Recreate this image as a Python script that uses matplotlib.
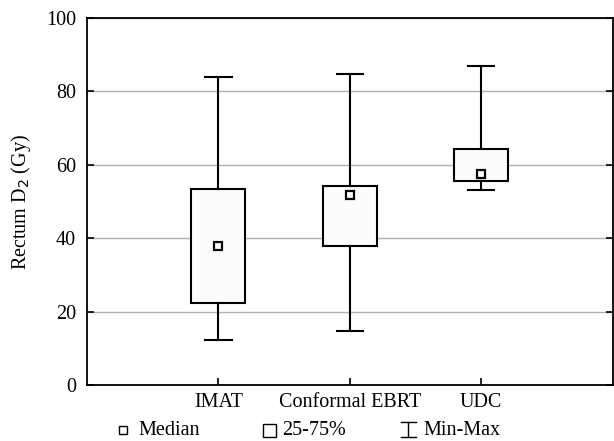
import matplotlib
matplotlib.use("Agg")
import matplotlib.pyplot as plt
from matplotlib.lines import Line2D
from matplotlib.patches import Rectangle

# Datos
categorias = ["IMAT", "Conformal EBRT", "UDC"]
minimos = [12.3, 14.7, 53.1]
q1 = [22.3, 38.0, 55.7]
medianas = [37.8, 51.8, 57.5]
q3 = [53.5, 54.3, 64.2]
maximos = [84.0, 84.7, 87.0]
yticks = [0, 20, 40, 60, 80, 100]

plt.rcParams["font.family"] = ["Liberation Serif", "DejaVu Serif"]
fs = 14.5

fig = plt.figure(figsize=(6.14, 4.41), dpi=100)
ax = fig.add_axes([0.1417, 0.127, 0.856, 0.832])

stats = []
for i, c in enumerate(categorias):
    stats.append({"label": c, "whislo": minimos[i], "q1": q1[i], "med": medianas[i],
                  "q3": q3[i], "whishi": maximos[i], "fliers": []})

pos = [1, 2, 3]
ax.bxp(stats, positions=pos, widths=0.41, capwidths=0.2, patch_artist=True,
       showfliers=False,
       boxprops=dict(facecolor="#fcfcfc", edgecolor="black", linewidth=1.5),
       whiskerprops=dict(color="black", linewidth=1.5),
       capprops=dict(color="black", linewidth=1.5),
       medianprops=dict(linewidth=0))
ax.plot(pos, medianas, linestyle="none", marker="s", markersize=5.5,
        markerfacecolor="white", markeredgecolor="black", markeredgewidth=1.6, zorder=5)

ax.set_xlim(0, 4)
ax.set_ylim(0, 100)
ax.set_yticks(yticks)
ax.set_xticks(pos)
ax.set_xticklabels(categorias)
ax.yaxis.grid(True, color="#b0b0b0", linewidth=1.0)
ax.set_axisbelow(True)
ax.tick_params(direction="in", length=5, width=1.2, right=True, labelsize=fs)
ax.tick_params(axis="y", pad=8)
ax.tick_params(axis="x", pad=6)
for s in ax.spines.values():
    s.set_linewidth(1.3)
ax.set_ylabel("Rectum D$_2$ (Gy)", fontsize=fs, labelpad=9)

# Leyenda manual
ly = 0.024
fig.add_artist(Line2D([0.200], [ly], marker="s", markersize=6, markerfacecolor="white",
                      markeredgecolor="black", markeredgewidth=1.0, linestyle="none"))
fig.text(0.226, ly, "Median", va="center", fontsize=fs)
fig.add_artist(Rectangle((0.428, ly - 0.016), 0.022, 0.031, facecolor="white",
                         edgecolor="black", linewidth=1.0))
fig.text(0.459, ly, "25-75%", va="center", fontsize=fs)
xm = 0.665
fig.add_artist(Line2D([xm, xm], [ly - 0.014, ly + 0.018], color="black", linewidth=1.0))
fig.add_artist(Line2D([xm - 0.012, xm + 0.012], [ly + 0.018, ly + 0.018], color="black", linewidth=1.0))
fig.add_artist(Line2D([xm - 0.012, xm + 0.012], [ly - 0.014, ly - 0.014], color="black", linewidth=1.0))
fig.text(0.690, ly, "Min-Max", va="center", fontsize=fs)

plt.savefig("out.png", dpi=100)
plt.close()
